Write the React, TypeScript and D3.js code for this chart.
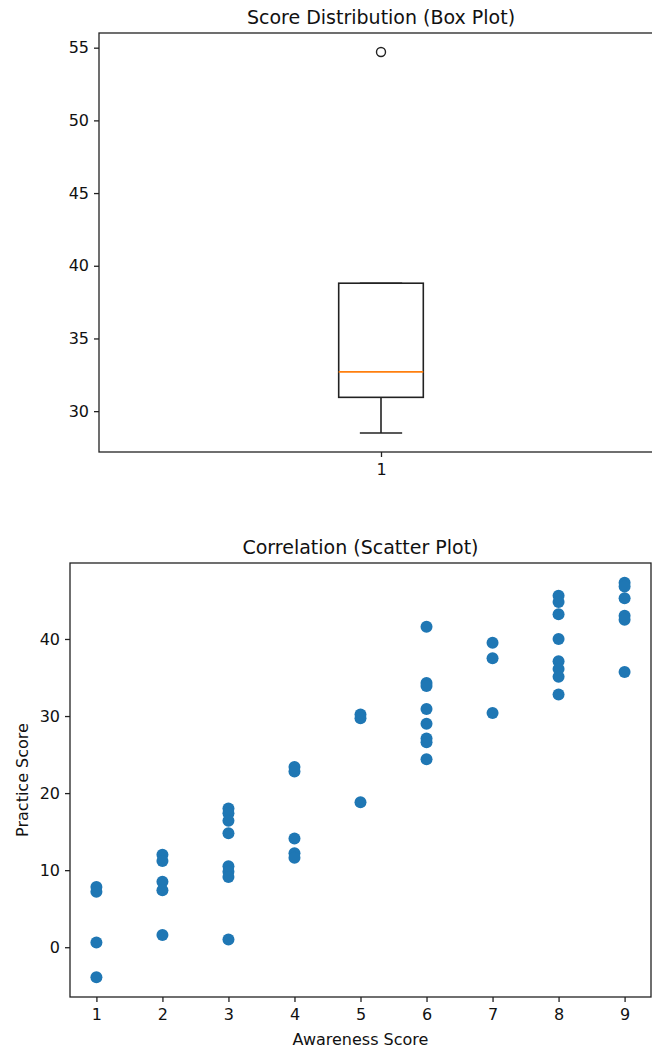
import React, { useEffect, useRef } from "react";
import * as d3 from "d3";

// box plot summary
const boxLabels = ["1"];
const boxQ1 = 30.95;
const boxMedian = 32.7;
const boxQ3 = 38.8;
const boxWhiskerLow = 28.5;
const boxWhiskerHigh = 38.8;
const boxOutliers = [54.7];
const boxTicks = [30, 35, 40, 45, 50, 55];

// scatter data
const awareness = [
  1, 1, 1, 1,
  2, 2, 2, 2, 2,
  3, 3, 3, 3, 3, 3, 3, 3,
  4, 4, 4, 4, 4,
  5, 5, 5,
  6, 6, 6, 6, 6, 6, 6, 6,
  7, 7, 7,
  8, 8, 8, 8, 8, 8, 8, 8,
  9, 9, 9, 9, 9, 9,
];
const practice = [
  7.8, 7.2, 0.6, -3.9,
  12.0, 11.2, 8.5, 7.4, 1.6,
  18.0, 17.4, 16.4, 14.8, 10.5, 9.8, 9.1, 1.0,
  23.4, 22.8, 14.1, 12.2, 11.6,
  30.2, 29.7, 18.8,
  41.6, 34.3, 33.9, 30.9, 29.0, 27.1, 26.6, 24.4,
  39.5, 37.5, 30.4,
  45.6, 44.8, 43.2, 40.0, 37.1, 36.1, 35.1, 32.8,
  47.3, 46.8, 45.3, 43.0, 42.5, 35.7,
];
const xTicks = [1, 2, 3, 4, 5, 6, 7, 8, 9];
const yTicks = [0, 10, 20, 30, 40];

const FONT = "DejaVu Sans, sans-serif";
const TICK_FS = "16px";
const TITLE_FS = "19px";

function App() {
  const ref = useRef<SVGSVGElement>(null);

  useEffect(() => {
    const svg = d3.select(ref.current);
    svg.selectAll("*").remove();

    const styleAxis = (g: any) => {
      g.selectAll("path").remove();
      g.selectAll("line").attr("stroke", "#222").attr("stroke-width", 1.3);
      g.selectAll("text")
        .attr("fill", "#111")
        .style("font-family", FONT)
        .style("font-size", TICK_FS);
    };

    // ---------- box plot ----------
    const b = { left: 99, right: 663, top: 33, bottom: 452 };
    const bx = d3.scaleLinear().domain([0.5, 1.5]).range([b.left, b.right]);
    const allBox = [boxWhiskerLow, boxWhiskerHigh, ...boxOutliers];
    const [bmin, bmax] = d3.extent(allBox) as [number, number];
    const bpad = (bmax - bmin) * 0.05;
    const by = d3.scaleLinear().domain([bmin - bpad, bmax + bpad]).range([b.bottom, b.top]);

    const g1 = svg.append("g");
    g1.append("text")
      .attr("x", 381)
      .attr("y", 24)
      .attr("text-anchor", "middle")
      .attr("fill", "#111")
      .style("font-family", FONT)
      .style("font-size", TITLE_FS)
      .text("Score Distribution (Box Plot)");

    const pos = 1;
    const hw = 0.075;
    const cap = hw / 2;
    const line = (x1: number, y1: number, x2: number, y2: number, color = "#222") =>
      g1.append("line")
        .attr("x1", x1).attr("y1", y1).attr("x2", x2).attr("y2", y2)
        .attr("stroke", color).attr("stroke-width", 1.6);

    line(bx(pos), by(boxQ1), bx(pos), by(boxWhiskerLow));
    line(bx(pos - cap), by(boxWhiskerLow), bx(pos + cap), by(boxWhiskerLow));
    line(bx(pos), by(boxQ3), bx(pos), by(boxWhiskerHigh));
    line(bx(pos - cap), by(boxWhiskerHigh), bx(pos + cap), by(boxWhiskerHigh));
    g1.append("rect")
      .attr("x", bx(pos - hw))
      .attr("y", by(boxQ3))
      .attr("width", bx(pos + hw) - bx(pos - hw))
      .attr("height", by(boxQ1) - by(boxQ3))
      .attr("fill", "none")
      .attr("stroke", "#222")
      .attr("stroke-width", 1.6);
    line(bx(pos - hw), by(boxMedian), bx(pos + hw), by(boxMedian), "#ff7f0e");
    g1.selectAll("circle.out")
      .data(boxOutliers)
      .enter()
      .append("circle")
      .attr("cx", bx(pos))
      .attr("cy", (d) => by(d))
      .attr("r", 4.5)
      .attr("fill", "none")
      .attr("stroke", "#222")
      .attr("stroke-width", 1.4);

    g1.append("g")
      .attr("transform", `translate(${b.left},0)`)
      .call(d3.axisLeft(by).tickValues(boxTicks).tickSize(5).tickPadding(5))
      .call(styleAxis);
    g1.append("g")
      .attr("transform", `translate(0,${b.bottom})`)
      .call(
        d3.axisBottom(bx).tickValues([1]).tickFormat((d, i) => boxLabels[i]).tickSize(5).tickPadding(7)
      )
      .call(styleAxis);
    g1.append("rect")
      .attr("x", b.left)
      .attr("y", b.top)
      .attr("width", b.right - b.left)
      .attr("height", b.bottom - b.top)
      .attr("fill", "none")
      .attr("stroke", "#222")
      .attr("stroke-width", 1.3);

    // ---------- scatter ----------
    const s = { left: 70, right: 651, top: 563, bottom: 997 };
    const [xmin, xmax] = d3.extent(awareness) as [number, number];
    const [ymin, ymax] = d3.extent(practice) as [number, number];
    const xp = (xmax - xmin) * 0.05;
    const yp = (ymax - ymin) * 0.05;
    const sx = d3.scaleLinear().domain([xmin - xp, xmax + xp]).range([s.left, s.right]);
    const sy = d3.scaleLinear().domain([ymin - yp, ymax + yp]).range([s.bottom, s.top]);

    const g2 = svg.append("g");
    g2.append("text")
      .attr("x", (s.left + s.right) / 2)
      .attr("y", 554)
      .attr("text-anchor", "middle")
      .attr("fill", "#111")
      .style("font-family", FONT)
      .style("font-size", TITLE_FS)
      .text("Correlation (Scatter Plot)");

    g2.selectAll("circle.pt")
      .data(d3.range(awareness.length))
      .enter()
      .append("circle")
      .attr("cx", (i) => sx(awareness[i]))
      .attr("cy", (i) => sy(practice[i]))
      .attr("r", 6)
      .attr("fill", "#1f77b4");

    g2.append("g")
      .attr("transform", `translate(${s.left},0)`)
      .call(d3.axisLeft(sy).tickValues(yTicks).tickSize(5).tickPadding(5))
      .call(styleAxis);
    g2.append("g")
      .attr("transform", `translate(0,${s.bottom})`)
      .call(d3.axisBottom(sx).tickValues(xTicks).tickFormat(d3.format("d")).tickSize(5).tickPadding(7))
      .call(styleAxis);
    g2.append("rect")
      .attr("x", s.left)
      .attr("y", s.top)
      .attr("width", s.right - s.left)
      .attr("height", s.bottom - s.top)
      .attr("fill", "none")
      .attr("stroke", "#222")
      .attr("stroke-width", 1.3);

    g2.append("text")
      .attr("x", (s.left + s.right) / 2)
      .attr("y", 1045)
      .attr("text-anchor", "middle")
      .attr("fill", "#111")
      .style("font-family", FONT)
      .style("font-size", TICK_FS)
      .text("Awareness Score");
    g2.append("text")
      .attr("transform", `translate(28,${(s.top + s.bottom) / 2}) rotate(-90)`)
      .attr("text-anchor", "middle")
      .attr("fill", "#111")
      .style("font-family", FONT)
      .style("font-size", TICK_FS)
      .text("Practice Score");
  }, []);

  return (
    <svg
      ref={ref}
      width={652}
      height={1050}
      style={{ position: "absolute", left: 0, top: 0, background: "#fff", overflow: "hidden" }}
    />
  );
}

export default App;
